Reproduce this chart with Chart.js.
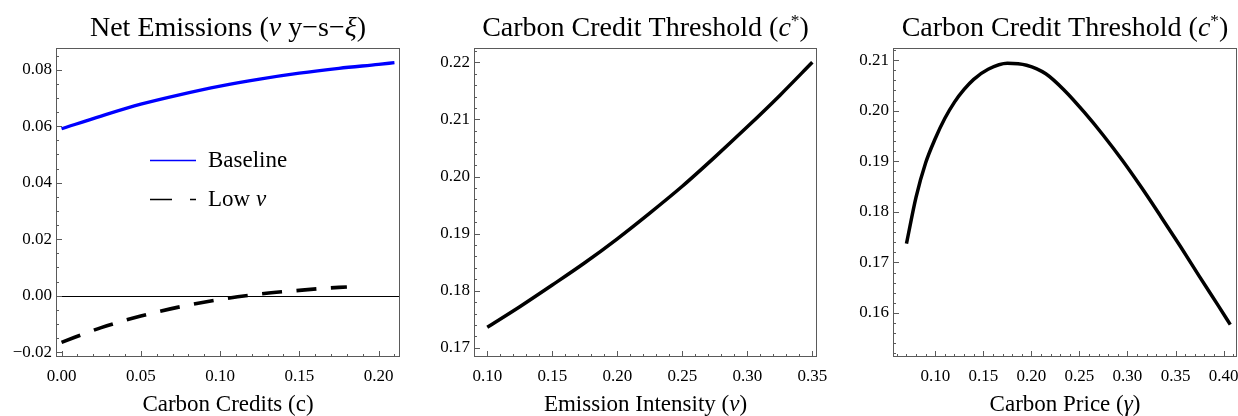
<!DOCTYPE html>
<html lang="en">
<head>
<meta charset="UTF-8">
<title>Net Emissions and Carbon Credit Threshold</title>
<script src="https://cdn.jsdelivr.net/npm/chart.js"></script>
<style>
  body { margin: 0; background: #ffffff; }
  #wrap { position: relative; width: 1238px; height: 416px; overflow: hidden; }
  canvas { position: absolute; top: 0; }
</style>
</head>
<body>
<div id="wrap">
  <canvas id="emissions" width="412" height="416" style="left:0px"></canvas>
  <canvas id="intensity" width="420" height="416" style="left:412px"></canvas>
  <canvas id="price" width="406" height="416" style="left:832px"></canvas>
</div>
<script>
// panel 1 - net emissions against carbon credits
const creditsBase = [0, 0.025, 0.05, 0.075, 0.10, 0.125, 0.15, 0.175, 0.20, 0.21];
const emissionsBase = [0.0591, 0.0636, 0.0678, 0.0712, 0.0742, 0.0767, 0.0788, 0.0805, 0.0819, 0.0825];
const creditsLow = [0, 0.025, 0.05, 0.075, 0.10, 0.125, 0.15, 0.165, 0.18];
const emissionsLow = [-0.0165, -0.0113, -0.0072, -0.0039, -0.0013, 0.0006, 0.0019, 0.0026, 0.0031];

// panel 2 - threshold against emission intensity
const intensity = [0.10, 0.125, 0.15, 0.175, 0.20, 0.225, 0.25, 0.275, 0.30, 0.325, 0.35];
const thresholdByIntensity = [0.1736, 0.1772, 0.1810, 0.1849, 0.1891, 0.1936, 0.1983, 0.2034, 0.2087, 0.2142, 0.2200];

// panel 3 - threshold against carbon price
const price = [0.07, 0.08, 0.09, 0.10, 0.11, 0.12, 0.13, 0.14, 0.155, 0.175, 0.195, 0.215, 0.235,
               0.255, 0.275, 0.295, 0.315, 0.335, 0.355, 0.375, 0.395, 0.407];
const thresholdByPrice = [0.1737, 0.1829, 0.1897, 0.1945, 0.1985, 0.2017, 0.2042, 0.2062, 0.2082, 0.2094, 0.2090, 0.2073, 0.2039,
                          0.1997, 0.1951, 0.1901, 0.1847, 0.1790, 0.1732, 0.1672, 0.1613, 0.1577];

const SERIF = '"Liberation Serif", "Times New Roman", serif';
const pairs = (xs, ys) => xs.map((x, i) => ({ x: x, y: ys[i] }));
const fmt = v => (v < 0 ? '\u2212' : '') + Math.abs(v).toFixed(2);

function drawRich(ctx, segs, cx, y, size) {
    const parts = segs.map(([t, st]) => {
        const sup = st === 'sup';
        const fs = sup ? size * 0.62 : size;
        const font = (st === 'i' ? 'italic ' : '') + fs + 'px ' + SERIF;
        ctx.font = font;
        return { t, font, w: ctx.measureText(t).width, dy: sup ? -size * 0.36 : 0 };
    });
    let x = cx - parts.reduce((a, p) => a + p.w, 0) / 2;
    ctx.textAlign = 'left';
    ctx.textBaseline = 'alphabetic';
    ctx.fillStyle = '#000';
    parts.forEach(p => { ctx.font = p.font; ctx.fillText(p.t, x, y + p.dy); x += p.w; });
}

// frame, inward ticks, zero line, titles
const framePlugin = {
    id: 'frame',
    beforeDatasetsDraw(chart, args, o) {
        if (!o.zeroLine) return;
        const { ctx, chartArea: a, scales: { y } } = chart;
        const p = Math.round(y.getPixelForValue(0)) + 0.5;
        ctx.save();
        ctx.strokeStyle = '#000';
        ctx.lineWidth = 1;
        ctx.beginPath(); ctx.moveTo(a.left, p); ctx.lineTo(a.right, p); ctx.stroke();
        ctx.restore();
    },
    afterDatasetsDraw(chart, args, o) {
        const { ctx, chartArea: a, scales: { x, y } } = chart;
        ctx.save();
        ctx.strokeStyle = '#5a5a5a';
        ctx.lineWidth = 1;
        const mark = (scale, step, len) => {
            for (let k = Math.ceil(scale.min / step - 1e-6); k * step <= scale.max + 1e-9; k++) {
                const p = Math.round(scale.getPixelForValue(k * step)) + 0.5;
                ctx.beginPath();
                if (scale.axis === 'x') { ctx.moveTo(p, a.bottom); ctx.lineTo(p, a.bottom - len); }
                else { ctx.moveTo(a.left, p); ctx.lineTo(a.left + len, p); }
                ctx.stroke();
            }
        };
        mark(x, o.xMinor, 3); mark(x, o.xMajor, 6);
        mark(y, o.yMinor, 3); mark(y, o.yMajor, 6);
        ctx.strokeRect(a.left + 0.5, a.top + 0.5, a.width - 1, a.height - 1);
        const cx = (a.left + a.right) / 2;
        drawRich(ctx, o.title, cx, 36, 28);
        drawRich(ctx, o.xTitle, cx, 411, 23);
        ctx.restore();
    }
};

// legend drawn inside the first panel
const legendPlugin = {
    id: 'inlineLegend',
    afterDatasetsDraw(chart) {
        const { ctx, chartArea: a } = chart;
        const x0 = a.left + 94, x1 = a.left + 140;
        ctx.save();
        chart.data.datasets.forEach((ds, i) => {
            const yy = [160, 199][i];
            ctx.strokeStyle = ds.borderColor;
            ctx.lineWidth = 1.4;
            ctx.setLineDash(ds.borderDash ? [22, 18] : []);
            ctx.beginPath(); ctx.moveTo(x0, yy + 0.5); ctx.lineTo(x1, yy + 0.5); ctx.stroke();
            ctx.setLineDash([]);
            const segs = ds.label === 'Low \u03bd' ? [['Low ', ''], ['\u03bd', 'i']] : [[ds.label, '']];
            ctx.textBaseline = 'middle';
            let tx = a.left + 152;
            segs.forEach(([t, st]) => {
                ctx.font = (st === 'i' ? 'italic ' : '') + '23px ' + SERIF;
                ctx.fillStyle = '#000';
                ctx.textAlign = 'left';
                ctx.fillText(t, tx, yy + 1);
                tx += ctx.measureText(t).width;
            });
        });
        ctx.restore();
    }
};

function makeChart(id, datasets, cfg) {
    return new Chart(document.getElementById(id), {
        type: 'line',
        data: { datasets: datasets },
        options: {
            responsive: false,
            animation: false,
            devicePixelRatio: 1,
            layout: { padding: { left: 0, right: cfg.padRight, top: 48, bottom: 0 } },
            elements: { point: { radius: 0 }, line: { cubicInterpolationMode: 'monotone', borderCapStyle: 'butt' } },
            scales: {
                x: {
                    type: 'linear', min: cfg.x[0], max: cfg.x[1],
                    grid: { display: false, drawTicks: false }, border: { display: false },
                    ticks: { stepSize: 0.05, includeBounds: false, padding: 9, maxRotation: 0, color: '#000',
                             font: { family: SERIF, size: 17 }, callback: v => fmt(v) },
                    afterFit: s => { s.height = 59; s.paddingLeft = 0; s.paddingRight = 0; }
                },
                y: {
                    type: 'linear', min: cfg.y[0], max: cfg.y[1],
                    grid: { display: false, drawTicks: false }, border: { display: false },
                    ticks: { stepSize: cfg.yStep, includeBounds: false, padding: 4, color: '#000',
                             font: { family: SERIF, size: 17 }, callback: v => fmt(v) },
                    afterFit: s => { s.width = cfg.yWidth; s.paddingTop = 0; s.paddingBottom = 0; }
                }
            },
            plugins: {
                legend: { display: false },
                tooltip: { enabled: false },
                frame: cfg.frame
            }
        },
        plugins: cfg.legend ? [framePlugin, legendPlugin] : [framePlugin]
    });
}

makeChart('emissions', [
    { label: 'Baseline', data: pairs(creditsBase, emissionsBase), borderColor: '#0000ff', borderWidth: 3.3 },
    { label: 'Low \u03bd', data: pairs(creditsLow, emissionsLow), borderColor: '#000000', borderWidth: 3.6, borderDash: [20, 14.5] }
], {
    x: [-0.0035, 0.2135], y: [-0.0217, 0.0877], yStep: 0.02, yWidth: 56, padRight: 12, legend: true,
    frame: {
        xMajor: 0.05, xMinor: 0.01, yMajor: 0.02, yMinor: 0.005, zeroLine: true,
        title: [['Net Emissions (', ''], ['\u03bd', 'i'], [' y\u2212s\u2212', ''], ['\u03be', 'i'], [')', '']],
        xTitle: [['Carbon Credits (c)', '']]
    }
});

makeChart('intensity', [
    { label: 'c*', data: pairs(intensity, thresholdByIntensity), borderColor: '#000000', borderWidth: 3.5 }
], {
    x: [0.0898, 0.3536], y: [0.1684, 0.2225], yStep: 0.01, yWidth: 62, padRight: 15,
    frame: {
        xMajor: 0.05, xMinor: 0.01, yMajor: 0.01, yMinor: 0.002,
        title: [['Carbon Credit Threshold (', ''], ['c', 'i'], ['*', 'sup'], [')', '']],
        xTitle: [['Emission Intensity (', ''], ['\u03bd', 'i'], [')', '']]
    }
});

makeChart('price', [
    { label: 'c*', data: pairs(price, thresholdByPrice), borderColor: '#000000', borderWidth: 3.5 }
], {
    x: [0.056, 0.414], y: [0.1513, 0.2124], yStep: 0.01, yWidth: 61, padRight: 1,
    frame: {
        xMajor: 0.05, xMinor: 0.01, yMajor: 0.01, yMinor: 0.002,
        title: [['Carbon Credit Threshold (', ''], ['c', 'i'], ['*', 'sup'], [')', '']],
        xTitle: [['Carbon Price (', ''], ['\u03b3', 'i'], [')', '']]
    }
});
</script>
</body>
</html>
